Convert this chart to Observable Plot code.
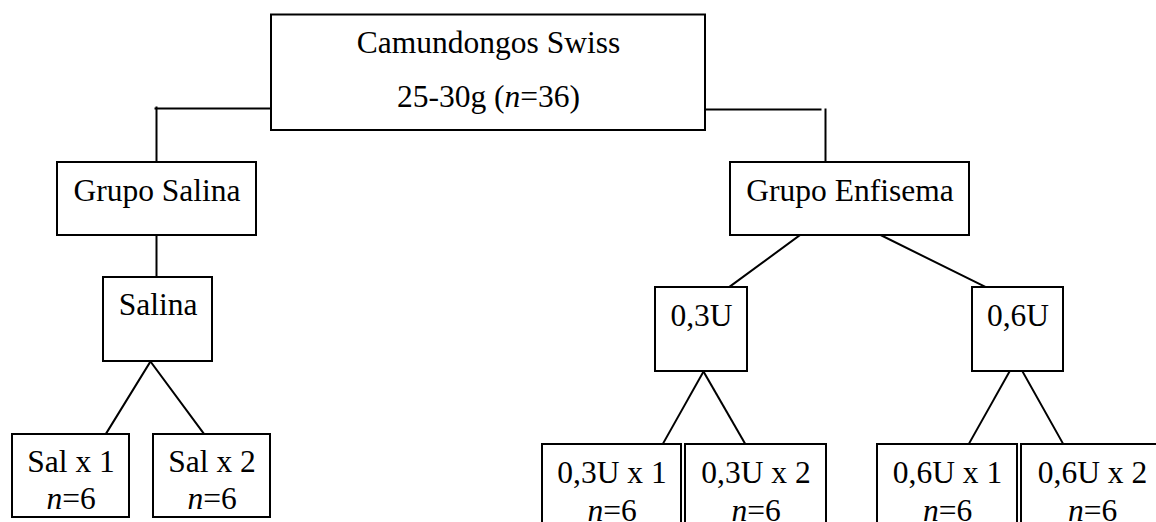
<!DOCTYPE html>
<html>
<head>
<meta charset="utf-8">
<script src="https://cdn.jsdelivr.net/npm/d3@7"></script>
<script src="https://cdn.jsdelivr.net/npm/@observablehq/plot@0.6"></script>
<style>
  html, body { margin: 0; padding: 0; background: #fff; }
  #chart svg { display: block; overflow: hidden; font-family: "Liberation Serif", "Times New Roman", serif !important; }
  #chart svg text, #chart svg tspan { font-family: "Liberation Serif", "Times New Roman", serif !important; }
</style>
</head>
<body>
<div id="chart"></div>
<script>
// Diagram nodes (boxes) in diagram units
const boxNames = ["Camundongos Swiss", "Grupo Salina", "Salina", "Sal x 1", "Sal x 2",
                  "Grupo Enfisema", "0,3U", "0,6U", "0,3U x 1", "0,3U x 2", "0,6U x 1", "0,6U x 2"];
const boxX1 = [271, 57, 103, 12, 153, 730, 655, 972, 542, 685, 877, 1021];
const boxX2 = [705, 256, 212, 129, 270, 969, 747, 1063, 681, 826, 1017, 1162];
const boxY1 = [14.5, 162, 277, 434, 434, 162, 287, 287, 444, 444, 444, 444];
const boxY2 = [130, 235, 361, 517, 517, 235, 371, 371, 532, 532, 532, 532];

// Labels
const labelText = ["Camundongos Swiss", "25-30g (n=36)", "Grupo Salina", "Salina",
                   "Sal x 1", "n=6", "Sal x 2", "n=6",
                   "Grupo Enfisema", "0,3U", "0,6U",
                   "0,3U x 1", "n=6", "0,3U x 2", "n=6", "0,6U x 1", "n=6", "0,6U x 2", "n=6"];
const labelX = [488, 488, 156.5, 157.5, 70.5, 70.5, 211.5, 211.5, 849.5, 701, 1017.5,
                611.5, 611.5, 755.5, 755.5, 947, 947, 1092, 1092];
const labelY = [52, 106, 200, 314, 471.5, 508, 471.5, 508, 200, 325, 325,
                482, 520, 482, 520, 482, 520, 482, 520];

// Connectors
const linkX1 = [271, 156, 705, 825, 156, 150, 150, 799, 881, 703, 703, 1009, 1022];
const linkY1 = [108, 107, 109, 109, 235, 361, 361, 235, 235, 371, 371, 371, 371];
const linkX2 = [155, 156, 820, 825, 156, 105, 204, 728, 986, 662, 745, 968, 1063];
const linkY2 = [108, 162, 109, 161, 277, 434, 434, 287, 287, 444, 444, 444, 444];

const boxes = boxNames.map((name, i) => ({name, x1: boxX1[i], x2: boxX2[i], y1: boxY1[i], y2: boxY2[i]}));
const labels = labelText.map((t, i) => ({t, x: labelX[i], y: labelY[i]}));
const links = linkX1.map((x1, i) => ({x1, y1: linkY1[i], x2: linkX2[i], y2: linkY2[i]}));

const W = 1156, H = 522;
const chart = Plot.plot({
  width: W, height: H, margin: 0,
  style: {background: "white", fontFamily: "'Liberation Serif', 'Times New Roman', serif"},
  x: {domain: [0, W], range: [0, W], axis: null},
  y: {domain: [0, H], range: [0, H], axis: null},
  marks: [
    Plot.link(links, {x1: "x1", y1: "y1", x2: "x2", y2: "y2", stroke: "black", strokeWidth: 2, strokeLinecap: "square"}),
    Plot.rect(boxes, {x1: "x1", x2: "x2", y1: "y1", y2: "y2", fill: "white", stroke: "black", strokeWidth: 2}),
    Plot.text(labels, {x: "x", y: "y", text: "t", lineAnchor: "bottom", textAnchor: "middle",
      fontFamily: "'Liberation Serif', 'Times New Roman', serif", fontSize: 31.5, fill: "black"})
  ]
});

// italicise the "n" in "n=" labels
d3.select(chart).selectAll("text").each(function() {
  const s = this.textContent;
  if (!s.includes("n=")) return;
  const el = d3.select(this);
  el.text(null);
  const parts = s.split("n=");
  parts.forEach((p, i) => {
    if (p) el.append("tspan").text(p);
    if (i < parts.length - 1) {
      el.append("tspan").attr("font-style", "italic").text("n");
      el.append("tspan").text("=");
    }
  });
});

document.getElementById("chart").appendChild(chart);
</script>
</body>
</html>
